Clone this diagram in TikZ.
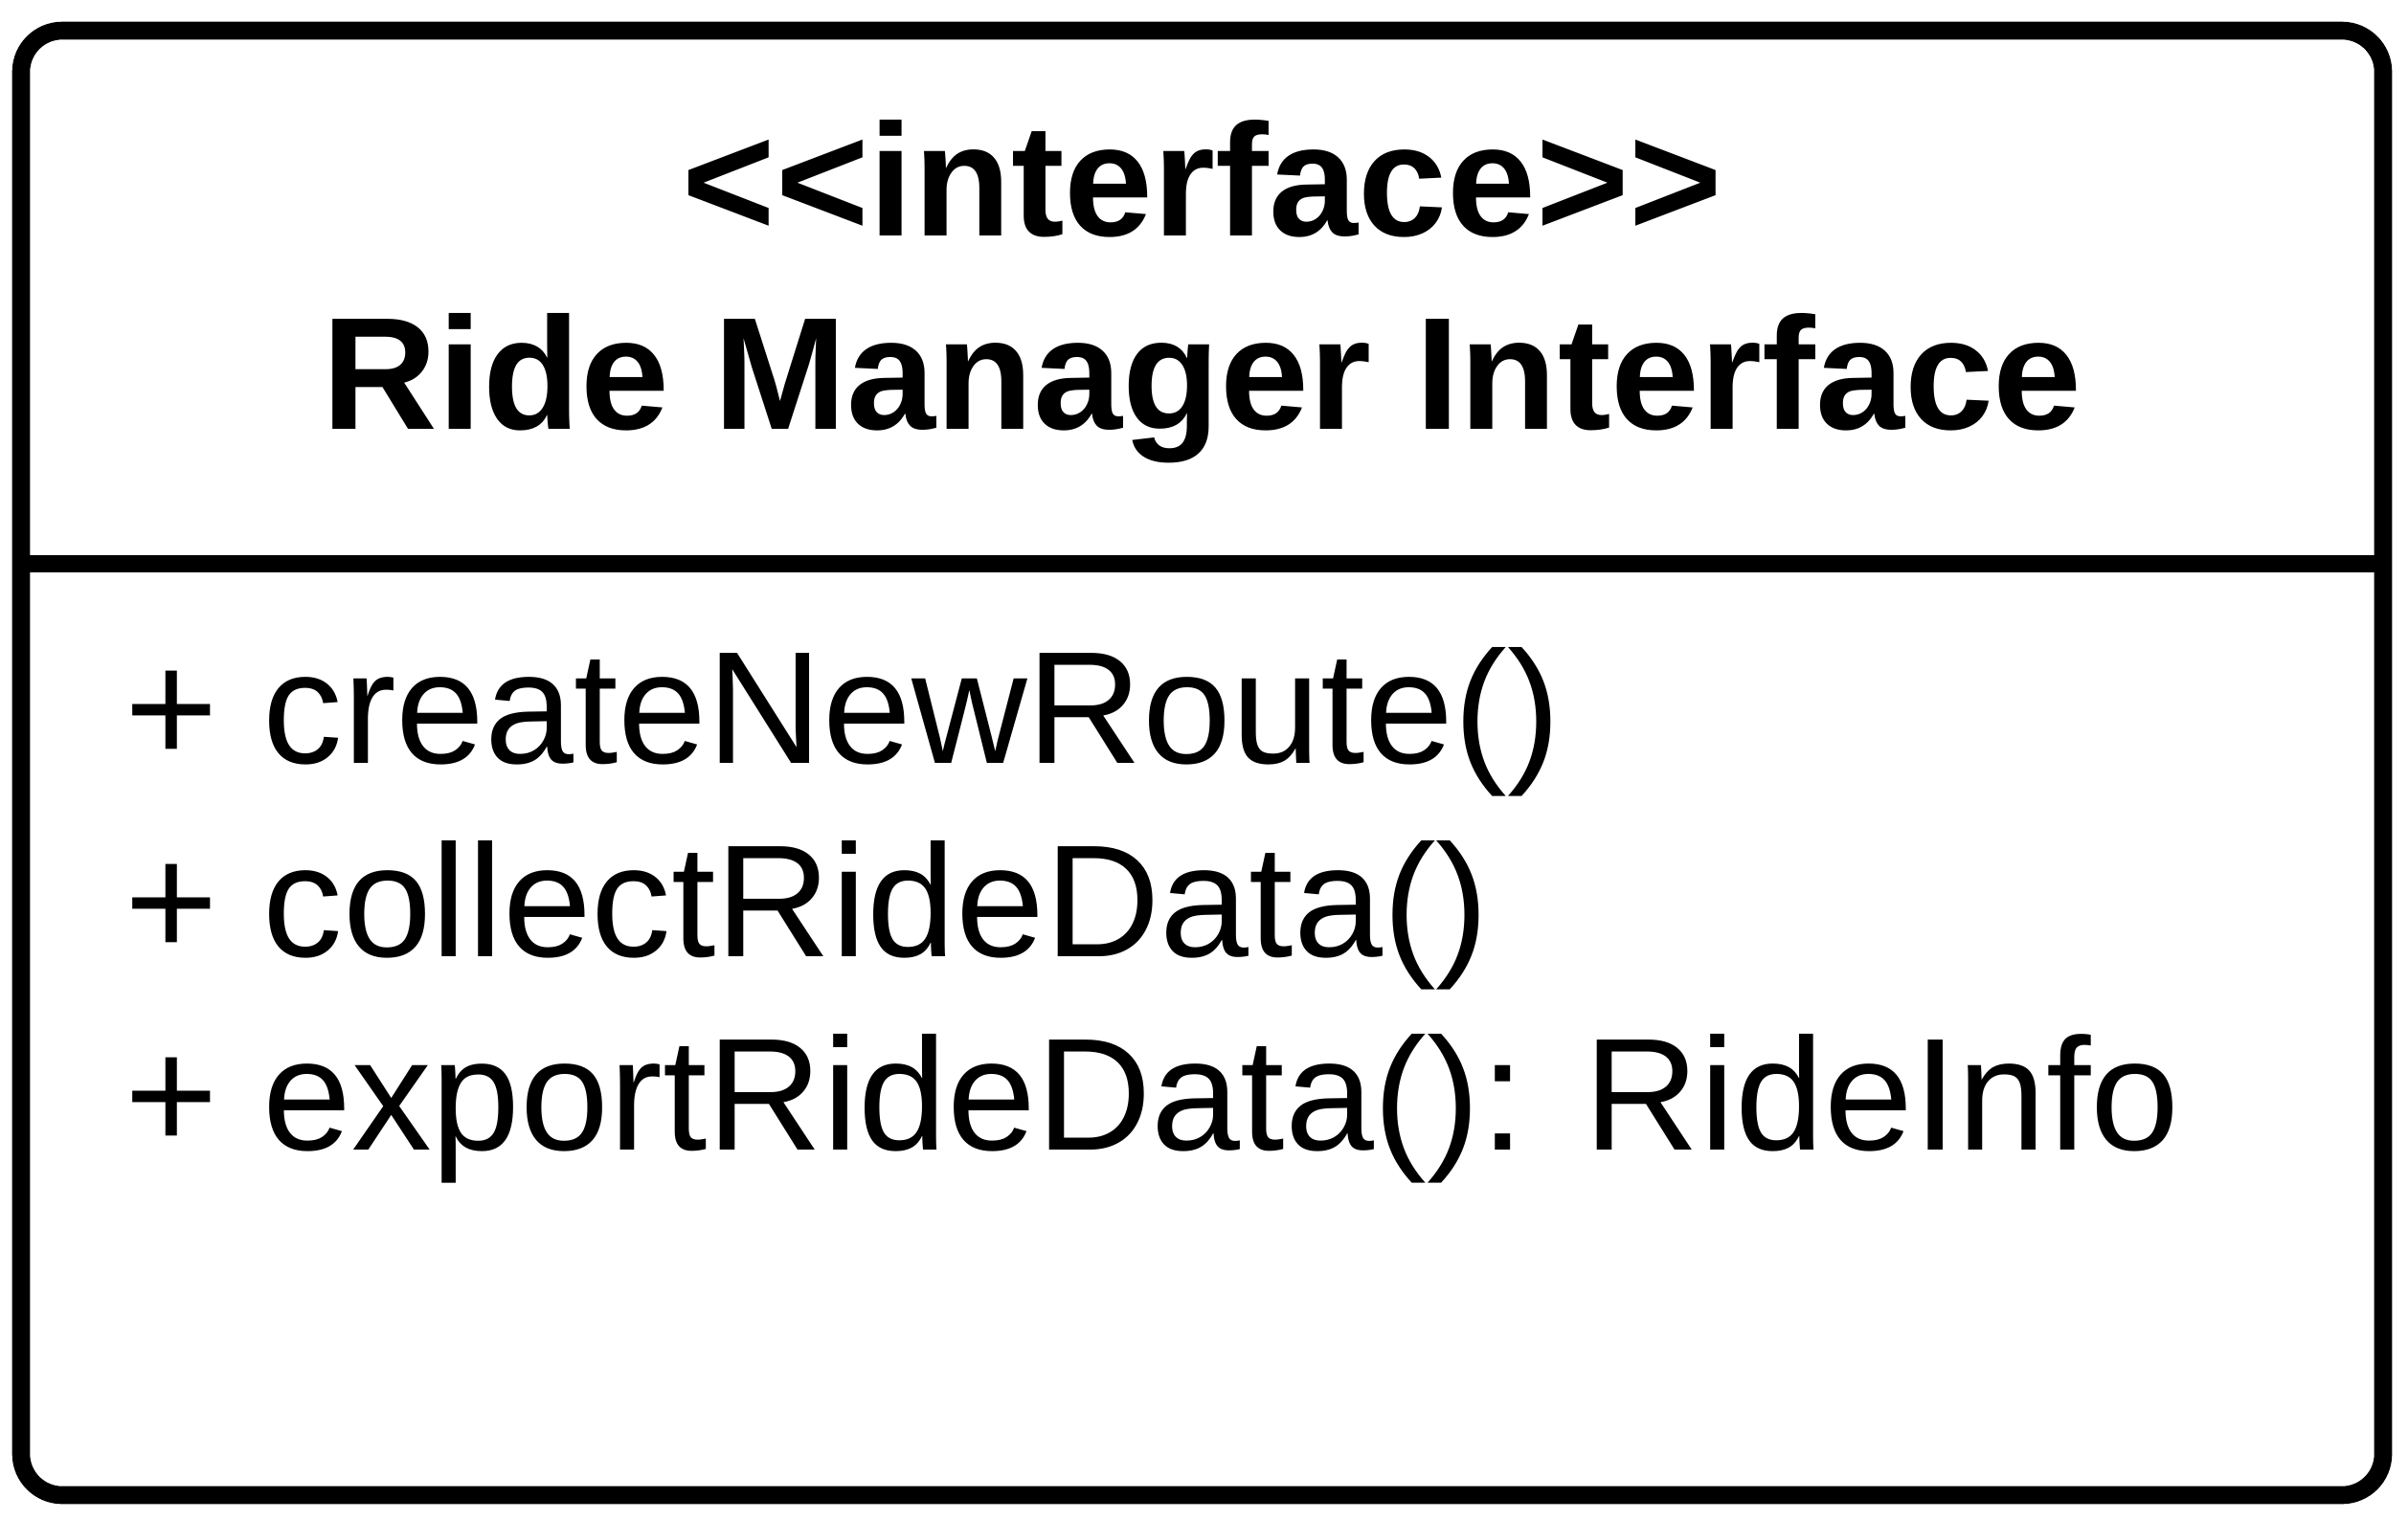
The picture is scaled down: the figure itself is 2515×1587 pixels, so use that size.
\documentclass[tikz,border=0pt]{standalone}
\usepackage{fontspec}
\setmainfont{Liberation Sans}
\usetikzlibrary{positioning}

\begin{document}
\begin{tikzpicture}[x=0.01cm,y=-0.01cm,
    umlline/.style={black, line width=5.3pt},
    titletext/.style={font=\fontsize{47.5}{57}\selectfont\bfseries, inner sep=0pt, anchor=base},
    methodtext/.style={font=\fontsize{47.5}{57}\selectfont, inner sep=0pt, anchor=base west}]
    \useasboundingbox (0,0) rectangle (2515,1587);
    %Class box
    \draw[umlline, rounded corners=0.43cm] (22,32) rectangle (2489,1562);
    \draw[umlline] (22,589) -- (2489,589);
    %Header
    \draw node[titletext] (stereo) at (1256,246) {<\kern0pt<interface>\kern0pt>};
    \draw node[titletext] (classname) at (1256,448) {Ride Manager Interface};
    %Operations
    \draw node[methodtext] (opcreate) at (130,797) {+ createNewRoute()};
    \draw node[methodtext] (opcollect) at (130,999) {+ collectRideData()};
    \draw node[methodtext] (opexport) at (130,1201) {+ exportRideData(): RideInfo};
\end{tikzpicture}
\end{document}
